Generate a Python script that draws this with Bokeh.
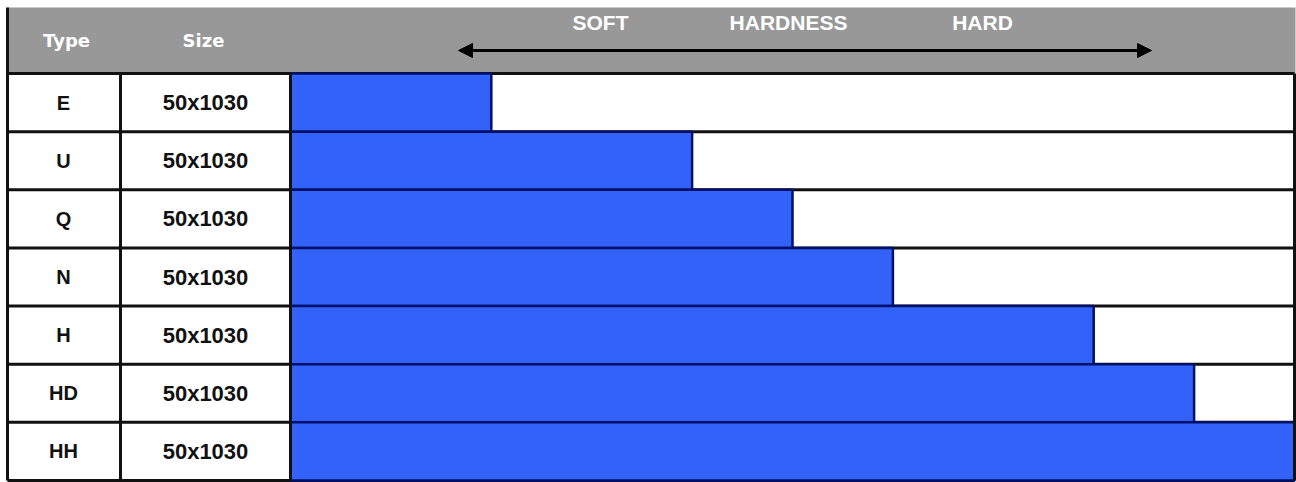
from bokeh.plotting import figure
from bokeh.models import Range1d, Arrow, NormalHead
from bokeh.core.properties import value
from bokeh.embed import file_html
from bokeh.resources import INLINE

types = ["E", "U", "Q", "N", "H", "HD", "HH"]
sizes = ["50x1030"] * 7
hardness = [2, 4, 5, 6, 8, 9, 10]
header_labels = ["Type", "Size"]
scale_labels = ["SOFT", "HARDNESS", "HARD"]

n = len(types)
ypos = [n - i - 0.5 for i in range(n)]  # E at top

# layout helpers (pixel -> data), layout only
KX = 100.4   # px per hardness unit
X_ORIG = 290.0
KY = 58.14   # px per row
Y_ORIG = 480.0
W, H = 1296, 482


def dx(px):
    return (px - X_ORIG) / KX


def dy(py):
    return (Y_ORIG - py) / KY


X0, X1, X2, XMAX = dx(7), dx(120), 0.0, 10.0
TOP = dy(7)

p = figure(width=W, height=H, output_backend="svg", toolbar_location=None,
           x_range=Range1d(dx(0), dx(W)), y_range=Range1d(dy(H), dy(0)),
           min_border=0)
p.axis.visible = False
p.grid.visible = False
p.outline_line_color = None
p.background_fill_color = "white"
p.border_fill_color = "white"

# header band
p.quad(left=[X0], right=[XMAX + 0.01], bottom=[n], top=[TOP], fill_color="#989898",
       line_color=None)

# row separators (black)
seps = list(range(0, n + 1))
p.segment(x0=[X0] * len(seps), y0=seps, x1=[XMAX] * len(seps), y1=seps,
          line_color="#111111", line_width=3)
# bars
p.hbar(y=ypos, left=0, right=hardness, height=1, fill_color="#3362FA",
       line_color="#00106A", line_width=2.5)
# vertical lines
p.segment(x0=[X0, X1, X2, XMAX], y0=[0, 0, 0, 0], x1=[X0, X1, X2, XMAX], y1=[TOP, n, n, n],
          line_color="#111111", line_width=3)

# header texts
p.text(x=[dx(66), dx(203)], y=[dy(40)] * 2, text=header_labels,
       text_color="white", text_font=value("DejaVu Sans"), text_font_style="bold",
       text_font_size="18px", text_align="center", text_baseline="middle")

# row texts
p.text(x=[dx(63)] * n, y=ypos, text=types, text_color="#111111",
       text_font=value("Liberation Sans"), text_font_style="bold", text_font_size="20px",
       text_align="center", text_baseline="middle")
p.text(x=[dx(205)] * n, y=ypos, text=sizes, text_color="#111111",
       text_font=value("Liberation Sans"), text_font_style="bold", text_font_size="22px",
       text_align="center", text_baseline="middle")

# scale labels
p.text(x=[dx(600), dx(788), dx(982)], y=[dy(22)] * 3, text=scale_labels, text_color="white",
       text_font=value("Liberation Sans"), text_font_style="bold", text_font_size="21px",
       text_align="center", text_baseline="middle")

# double arrow
p.add_layout(Arrow(x_start=dx(458), y_start=dy(50), x_end=dx(1151), y_end=dy(50),
                   line_color="black", line_width=3,
                   start=NormalHead(size=14, fill_color="black", line_color="black"),
                   end=NormalHead(size=14, fill_color="black", line_color="black")))

open("out.html", "w").write(file_html(p, INLINE))
